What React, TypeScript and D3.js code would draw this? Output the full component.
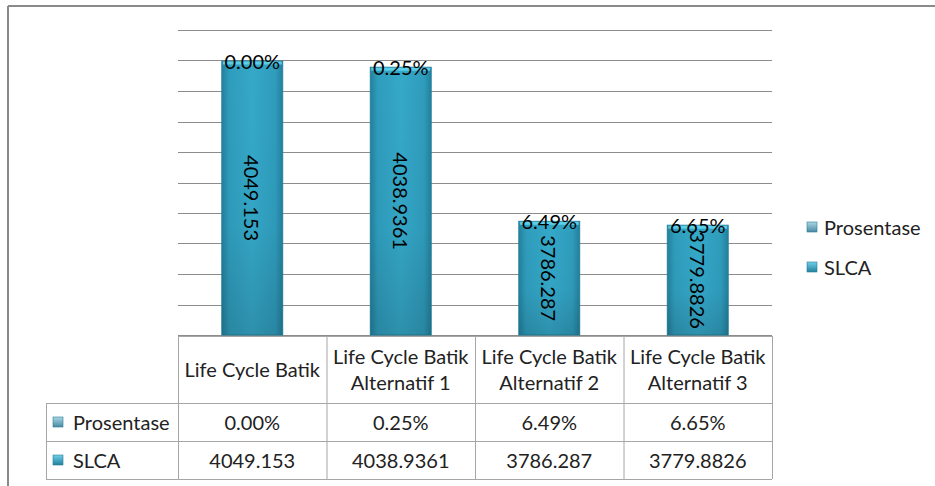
import React from "react";
import * as d3 from "d3";

const categories = [
  ["Life Cycle Batik"],
  ["Life Cycle Batik", "Alternatif 1"],
  ["Life Cycle Batik", "Alternatif 2"],
  ["Life Cycle Batik", "Alternatif 3"],
];
const slcaValues = [4049.153, 4038.9361, 3786.287, 3779.8826];
const slcaLabels = ["4049.153", "4038.9361", "3786.287", "3779.8826"];
const prosentaseValues = [0.0, 0.0025, 0.0649, 0.0665];
const prosentaseLabels = ["0.00%", "0.25%", "6.49%", "6.65%"];
const seriesNames = ["Prosentase", "SLCA"];
const yDomain = [3600, 4100];
const yStep = 50;

const W = 935;
const H = 486;
const plotLeft = 178;
const plotRight = 772;
const plotTop = 30;
const plotBottom = 335;
const headerBottom = 403;
const rowH = 38;
const labelColLeft = 46;
const FONT = "Lato, 'Open Sans', sans-serif";
const FS = 20;
const gridColor = "#8c8c8c";
const tableColor = "#a6a6a6";

export default function App() {
  const ids = categories.map((_, i) => i);
  const x = d3.scaleBand<number>().domain(ids).range([plotLeft, plotRight]).padding(0);
  const y = d3.scaleLinear().domain(yDomain).range([plotBottom, plotTop]);
  const ticks = d3.range(yDomain[0], yDomain[1] + yStep / 2, yStep);
  const barW = x.bandwidth() * 0.41;

  const rowTops = [headerBottom, headerBottom + rowH];
  const tableBottom = headerBottom + rowH * 2;

  const marker = (mx: number, my: number, id: string) => (
    <rect x={mx} y={my} width={10} height={10} fill={`url(#${id})`} stroke="#2a7d95" strokeWidth={0.6} />
  );

  return (
    <svg
      width={W}
      height={H}
      style={{ position: "fixed", left: 0, top: 0, background: "#fff" }}
      fontFamily={FONT}
    >
      <defs>
        <linearGradient id="barGrad" x1="0" x2="1" y1="0" y2="0">
          <stop offset="0" stopColor="#23809c" />
          <stop offset="0.12" stopColor="#2f9cbc" />
          <stop offset="0.5" stopColor="#35a8c8" />
          <stop offset="0.88" stopColor="#2f9cbc" />
          <stop offset="1" stopColor="#23809c" />
        </linearGradient>
        <linearGradient id="barShade" x1="0" x2="0" y1="0" y2="1">
          <stop offset="0" stopColor="#000" stopOpacity={0} />
          <stop offset="0.6" stopColor="#000" stopOpacity={0.02} />
          <stop offset="1" stopColor="#000" stopOpacity={0.14} />
        </linearGradient>
        <linearGradient id="mkPros" x1="0" x2="0" y1="0" y2="1">
          <stop offset="0" stopColor="#a9d7e6" />
          <stop offset="1" stopColor="#4a8aa3" />
        </linearGradient>
        <linearGradient id="mkSlca" x1="0" x2="0" y1="0" y2="1">
          <stop offset="0" stopColor="#6fd0ea" />
          <stop offset="1" stopColor="#22819e" />
        </linearGradient>
      </defs>

      {/* chart frame */}
      <line x1={8} x2={8} y1={6} y2={H} stroke="#8a8a8a" strokeWidth={2} />
      <line x1={8} x2={W} y1={6} y2={6} stroke="#8a8a8a" strokeWidth={2} />

      {/* gridlines */}
      {ticks.map((t) => (
        <line
          key={t}
          x1={plotLeft}
          x2={plotRight}
          y1={Math.round(y(t)) + 0.5}
          y2={Math.round(y(t)) + 0.5}
          stroke={gridColor}
          strokeWidth={1}
        />
      ))}

      {/* stacked columns: SLCA with Prosentase on top */}
      {ids.map((i) => {
        const cx = x(i)! + x.bandwidth() / 2;
        const top = y(slcaValues[i] + prosentaseValues[i]);
        const h = plotBottom - top;
        return (
          <g key={i}>
            <rect x={cx - barW / 2} y={top} width={barW} height={h} fill="url(#barGrad)" stroke="#24819c" strokeWidth={1} />
            <rect x={cx - barW / 2} y={top} width={barW} height={h} fill="url(#barShade)" />
            <rect x={cx - barW / 2 + 1} y={top + 0.5} width={barW - 2} height={3} fill="#5fd3ec" opacity={0.9} />
            <text
              transform={`translate(${cx},${(top + plotBottom) / 2}) rotate(90)`}
              textAnchor="middle"
              dominantBaseline="central"
              fontSize={FS}
              fill="#000"
            >
              {slcaLabels[i]}
            </text>
            <text x={cx} y={top} textAnchor="middle" dominantBaseline="central" fontSize={FS} fill="#000">
              {prosentaseLabels[i]}
            </text>
          </g>
        );
      })}

      {/* data table */}
      <g stroke={tableColor} strokeWidth={1} fill="none">
        <line x1={plotLeft} x2={plotRight} y1={plotBottom + 1.5} y2={plotBottom + 1.5} />
        <line x1={labelColLeft} x2={plotRight} y1={headerBottom + 0.5} y2={headerBottom + 0.5} />
        <line x1={labelColLeft} x2={plotRight} y1={headerBottom + rowH + 0.5} y2={headerBottom + rowH + 0.5} />
        <line x1={labelColLeft} x2={plotRight} y1={tableBottom + 0.5} y2={tableBottom + 0.5} />
        <line x1={labelColLeft + 0.5} x2={labelColLeft + 0.5} y1={headerBottom} y2={tableBottom} />
        {ids.map((i) => (
          <line key={i} x1={x(i)! + 0.5} x2={x(i)! + 0.5} y1={plotBottom + 1} y2={tableBottom} />
        ))}
        <line x1={plotRight + 0.5} x2={plotRight + 0.5} y1={plotBottom + 1} y2={tableBottom} />
      </g>

      {/* category headers */}
      {ids.map((i) => {
        const cx = x(i)! + x.bandwidth() / 2;
        const lines = categories[i];
        const mid = (plotBottom + headerBottom) / 2;
        const lh = 26;
        return (
          <text key={i} textAnchor="middle" fontSize={FS} fill="#222">
            {lines.map((ln, k) => (
              <tspan key={k} x={cx} y={mid + (k - (lines.length - 1) / 2) * lh} dominantBaseline="central">
                {ln}
              </tspan>
            ))}
          </text>
        );
      })}

      {/* table rows */}
      {[prosentaseLabels, slcaLabels].map((row, r) => (
        <g key={r}>
          {marker(labelColLeft + 7, rowTops[r] + rowH / 2 - 5, r === 0 ? "mkPros" : "mkSlca")}
          <text x={labelColLeft + 27} y={rowTops[r] + rowH / 2} dominantBaseline="central" fontSize={FS} fill="#222">
            {seriesNames[r]}
          </text>
          {row.map((v, i) => (
            <text
              key={i}
              x={x(i)! + x.bandwidth() / 2}
              y={rowTops[r] + rowH / 2}
              textAnchor="middle"
              dominantBaseline="central"
              fontSize={FS}
              fill="#222"
            >
              {v}
            </text>
          ))}
        </g>
      ))}

      {/* legend */}
      {seriesNames.map((s, k) => (
        <g key={s}>
          {marker(807, 222 + k * 40, k === 0 ? "mkPros" : "mkSlca")}
          <text x={824} y={227 + k * 40} dominantBaseline="central" fontSize={FS} fill="#222">
            {s}
          </text>
        </g>
      ))}
    </svg>
  );
}
